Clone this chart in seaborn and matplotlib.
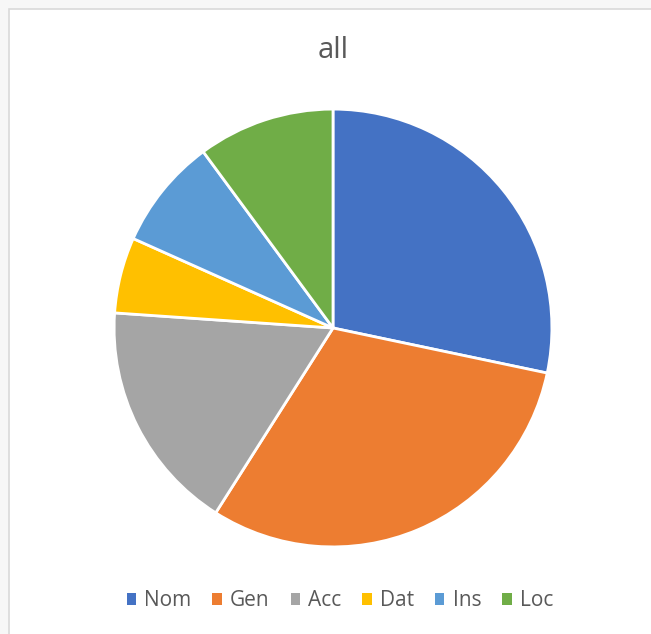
from __future__ import annotations

import matplotlib.pyplot as plt
import seaborn as sns
from matplotlib.patches import Patch, Rectangle

# Case shares (percent), clockwise from 12 o'clock
CASES = ["Nom", "Gen", "Acc", "Dat", "Ins", "Loc"]
SHARES = [28.3, 30.7, 17.1, 5.6, 8.2, 10.1]
COLORS = ["#4472C4", "#ED7D31", "#A5A5A5", "#FFC000", "#5B9BD5", "#70AD47"]
TITLE = "all"

W, H = 651, 634
TEXT_COLOR = "#595959"


def set_style() -> None:
    sns.set_theme(style="white")
    plt.rcParams["font.family"] = ["Open Sans", "DejaVu Sans"]


def build_figure() -> plt.Figure:
    fig = plt.figure(figsize=(W / 100, H / 100), dpi=100, facecolor="#f7f7f7")

    # white chart area with thin grey border (left/top visible)
    fig.patches.append(Rectangle((9 / W, -0.01), 1.1, (H - 9) / H + 0.01,
                                 transform=fig.transFigure, facecolor="white",
                                 edgecolor="#d9d9d9", linewidth=1.2, zorder=-5))

    cx, cy, r = 333, 328, 220
    ax = fig.add_axes([(cx - r) / W, (H - cy - r) / H, 2 * r / W, 2 * r / H])
    ax.set_zorder(2)
    ax.patch.set_visible(False)
    palette = sns.color_palette(COLORS)
    ax.pie(SHARES, colors=palette, startangle=90, counterclock=False,
           wedgeprops={"edgecolor": "white", "linewidth": 2.0})
    ax.set_xlim(-1.005, 1.005)
    ax.set_ylim(-1.005, 1.005)
    ax.set_aspect("equal")
    ax.axis("off")

    fig.text(333 / W, 1 - 50 / H, TITLE, ha="center", va="center",
             fontsize=21, color=TEXT_COLOR)

    handles = [Patch(facecolor=c, edgecolor="none") for c in palette]
    fig.legend(handles, CASES, loc="center", bbox_to_anchor=(340 / W, 1 - 601 / H),
               ncol=len(CASES), frameon=False, fontsize=15,
               handlelength=0.45, handleheight=0.45, handletextpad=0.4,
               columnspacing=1.0, labelcolor=TEXT_COLOR)
    return fig


def main() -> None:
    set_style()
    fig = build_figure()
    fig.savefig("out.png", dpi=100, facecolor=fig.get_facecolor())


if __name__ == "__main__":
    main()
